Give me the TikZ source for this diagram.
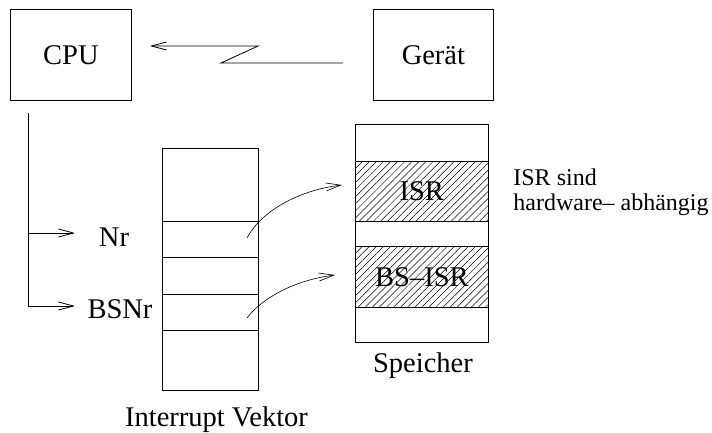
\documentclass[tikz,border=0pt]{standalone}
\usepackage{fontspec}
\setmainfont{Liberation Serif}
\usetikzlibrary{arrows.meta, patterns.meta}

\tikzset{
  box/.style={draw, inner sep=0pt, anchor=north west},
  lbl/.style={inner sep=0pt, anchor=base},
  barb/.style={-{Straight Barb[length=15pt, width=8pt]}},
  hatch/.style={pattern={Lines[angle=45, distance=5pt, line width=0.5pt]}},
}

\begin{document}
\begin{tikzpicture}[x=1pt, y=-1pt, line width=0.8pt, font=\fontsize{28.5}{32}\selectfont]
\useasboundingbox (0,0) rectangle (712,432);

% CPU und Geraet
\node[box, minimum width=121pt, minimum height=91pt] (cpu) at (10,9) {CPU};
\node[box, minimum width=120pt, minimum height=91pt] (geraet) at (373,9) {Gerät};

\coordinate (sig0) at (343,63);
\coordinate (sig1) at (150,46);
\draw[barb] (sig0) -- (221,63) -- (258,46) -- (sig1);

% Nummern
\coordinate (bus) at (28,113);
\coordinate (nrtip) at (75,233);
\coordinate (bstip) at (75,306);
\draw[barb] (bus) |- (bstip);
\draw[barb] (bus |- nrtip) -- (nrtip);
\node[lbl] (nr) at (114,246) {Nr};
\node[lbl] (bsnr) at (120,318) {BSNr};

% Interrupt Vektor
\node[box, minimum width=96pt, minimum height=242pt] (vec) at (162,148) {};
\foreach \y in {221,257,294,330}
  \draw (vec.west |- 0,\y) -- (vec.east |- 0,\y);
\node[lbl] (veclabel) at (216.5,426) {Interrupt Vektor};

% Speicher
\node[box, minimum width=133pt, minimum height=218pt] (mem) at (355,124) {};
\node[box, hatch, minimum width=133pt, minimum height=60pt] (isr) at (355,161) {ISR};
\node[box, hatch, minimum width=133pt, minimum height=61pt] (bsisr) at (355,246) {BS--ISR};
\node[lbl] (memlabel) at (423,372) {Speicher};

\node[lbl, anchor=base west, font=\fontsize{24}{26}\selectfont] (note1) at (513,185) {ISR sind};
\node[lbl, anchor=base west, font=\fontsize{24}{26}\selectfont] (note2) at (513,210) {hardware-- abhängig};

% Zeiger
\coordinate (p1) at (247,238);
\coordinate (q1) at (342,185);
\coordinate (p2) at (247,318);
\coordinate (q2) at (335,275);
\draw[barb, line width=0.6pt] (p1) .. controls (262,210) and (300,190) .. (q1);
\draw[barb, line width=0.6pt] (p2) .. controls (262,298) and (295,280) .. (q2);

\end{tikzpicture}
\end{document}
